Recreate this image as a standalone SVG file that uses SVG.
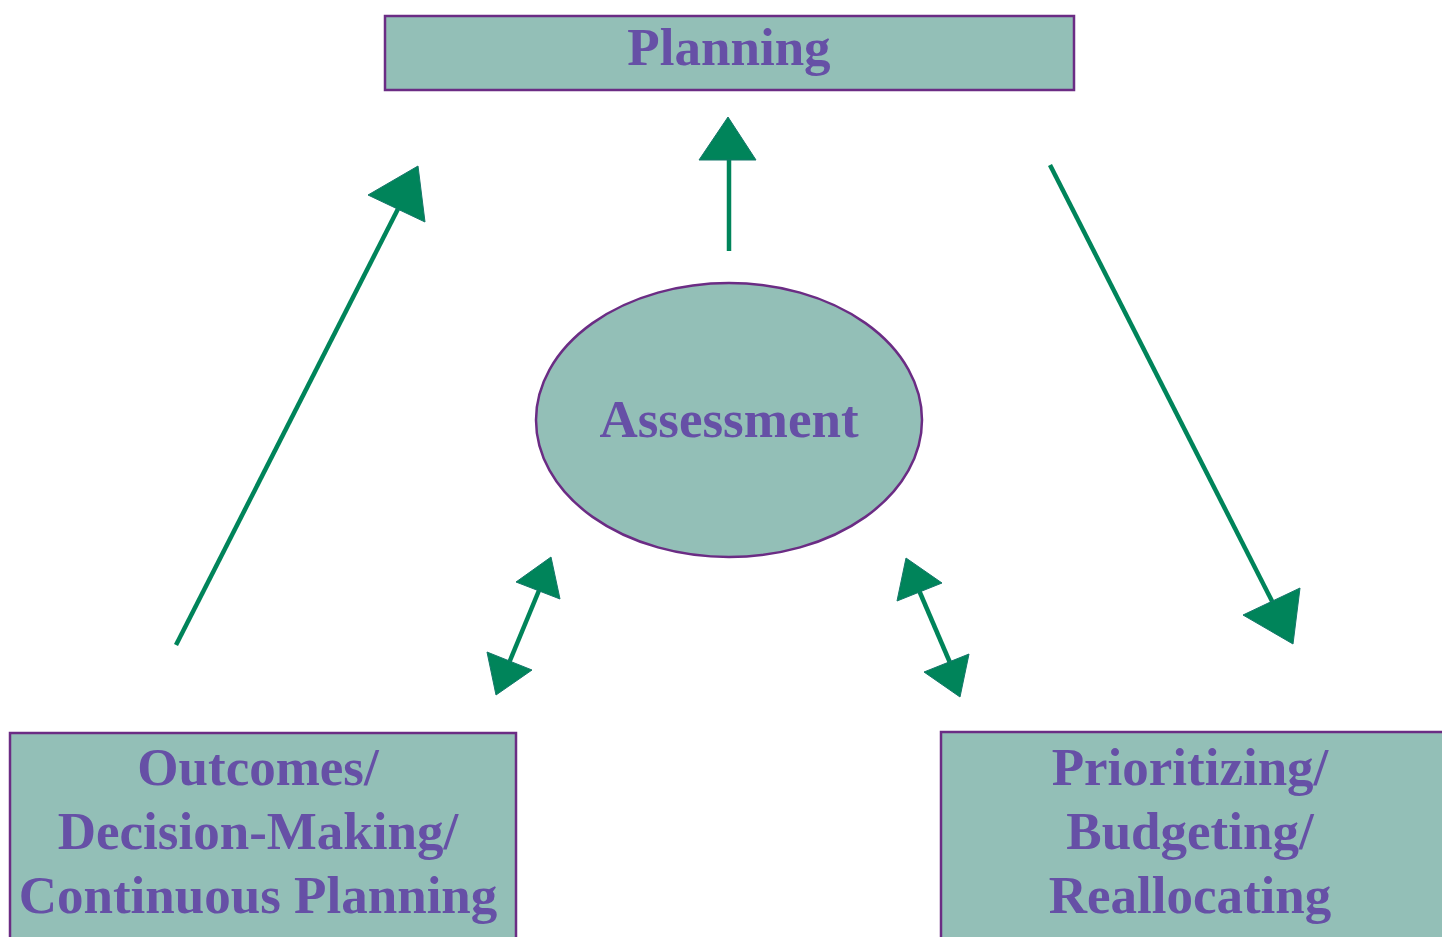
<svg xmlns="http://www.w3.org/2000/svg" width="1442" height="937" viewBox="0 0 1442 937">
  <style>
    .box { fill: #93BFB7; stroke: #6B2C84; stroke-width: 2.5; }
    .lbl { font-family: "Liberation Serif", "Times New Roman", serif; font-weight: bold; font-size: 53px; fill: #6650A6; text-anchor: middle; }
    .shaft { stroke: #00845A; stroke-width: 4.5; fill: none; }
    .head { fill: #00845A; stroke: #14786A; stroke-width: 1; }
  </style>
  <rect width="1442" height="937" fill="#ffffff"/>

  <g id="planning">
    <rect class="box" x="385" y="16" width="689" height="74"/>
    <text class="lbl" x="729" y="65">Planning</text>
  </g>

  <g id="assessment">
    <ellipse class="box" cx="729" cy="420" rx="193" ry="137"/>
    <text class="lbl" x="729" y="437">Assessment</text>
  </g>

  <g id="outcomes">
    <rect class="box" x="10" y="733" width="506" height="220"/>
    <text class="lbl" x="258" y="785">Outcomes/</text>
    <text class="lbl" x="258" y="849">Decision-Making/</text>
    <text class="lbl" x="258" y="913">Continuous Planning</text>
  </g>

  <g id="prioritizing">
    <rect class="box" x="941" y="732" width="520" height="220"/>
    <text class="lbl" x="1190" y="785">Prioritizing/</text>
    <text class="lbl" x="1190" y="849">Budgeting/</text>
    <text class="lbl" x="1190" y="913">Reallocating</text>
  </g>

  <g id="connectors">
    <!-- outcomes to planning -->
    <line class="shaft" x1="176" y1="645" x2="400" y2="205"/>
    <polygon class="head" points="418,166 368,195 425,222"/>
    <!-- assessment to planning -->
    <line class="shaft" x1="729" y1="251" x2="729" y2="156"/>
    <polygon class="head" points="728,117 699,160 756,160"/>
    <!-- planning to prioritizing -->
    <line class="shaft" x1="1050" y1="165" x2="1275" y2="607"/>
    <polygon class="head" points="1293,644 1243,615 1300,588"/>
    <!-- assessment and outcomes -->
    <line class="shaft" x1="509" y1="663" x2="540" y2="588"/>
    <polygon class="head" points="551,557 516,582 560,599"/>
    <polygon class="head" points="496,695 487,652 532,670"/>
    <!-- assessment and prioritizing -->
    <line class="shaft" x1="918" y1="588" x2="951" y2="665"/>
    <polygon class="head" points="906,558 942,583 897,601"/>
    <polygon class="head" points="960,697 924,672 969,654"/>
  </g>
</svg>
